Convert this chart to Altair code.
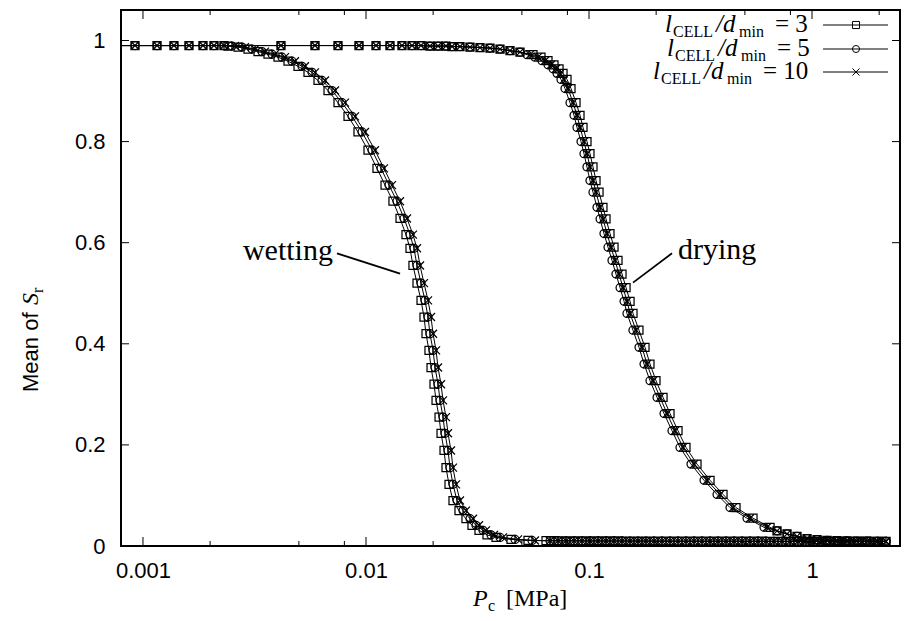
import altair as alt
import pandas as pd

# ---------------- data ----------------
RATIOS = ["3", "5", "10"]

# drying branch (increasing Pc), saturation shared by the three runs
SR_DRY = [0.990, 0.990, 0.990, 0.990, 0.990, 0.990, 0.990, 0.990, 0.990,
          0.990, 0.989, 0.989, 0.989, 0.988, 0.988, 0.987, 0.986, 0.985, 0.983,
          0.980, 0.977, 0.972, 0.967, 0.960, 0.952, 0.944, 0.935, 0.923, 0.905,
          0.877, 0.852, 0.828, 0.800, 0.776, 0.750, 0.723, 0.700, 0.670, 0.647,
          0.618, 0.591, 0.565, 0.538, 0.511, 0.484, 0.460, 0.427, 0.393, 0.360,
          0.327, 0.294, 0.262, 0.228, 0.195, 0.162, 0.130, 0.102, 0.076, 0.055,
          0.037, 0.030, 0.024, 0.019, 0.0148, 0.0125, 0.011, 0.0104, 0.0100, 0.0097,
          0.0095, 0.0093, 0.0092]

PC_DRY_COMMON_TOP = [0.00069, 0.004157, 0.005906, 0.007490, 0.009302, 0.01109, 0.01281,
                     0.01450, 0.01608, 0.01765, 0.01936, 0.02104, 0.02284, 0.02430,
                     0.02639, 0.02926, 0.03245, 0.03598, 0.03990, 0.04423, 0.04904]
PC_DRY_COMMON_TAIL = [0.6966, 0.7725, 0.8565, 0.9497, 1.0530, 1.168, 1.2945, 1.435,
                      1.5912, 1.764, 1.9566, 2.147]

PC_DRY_3_MID = [0.05609, 0.06091, 0.06548, 0.06968, 0.07338, 0.07647, 0.07968, 0.08304,
                0.08745, 0.09113, 0.09400, 0.09796, 0.1010, 0.1042, 0.1075, 0.1109,
                0.1155, 0.1192, 0.1242, 0.1295, 0.1349, 0.1406, 0.1466, 0.1528, 0.1575,
                0.1675, 0.1783, 0.1877, 0.1997, 0.2148, 0.2308, 0.2507, 0.2722, 0.3050,
                0.3489, 0.3990, 0.4562, 0.5438, 0.6483]
PC_DRY_5_MID = [0.05272, 0.05725, 0.06154, 0.06549, 0.06897, 0.07187, 0.07489, 0.07805,
                0.08219, 0.08566, 0.08835, 0.09207, 0.09496, 0.09792, 0.1010, 0.1042,
                0.1086, 0.1121, 0.1167, 0.1217, 0.1268, 0.1321, 0.1378, 0.1436, 0.1480,
                0.1574, 0.1676, 0.1765, 0.1877, 0.2019, 0.2170, 0.2356, 0.2558, 0.2867,
                0.3279, 0.3750, 0.4288, 0.5111, 0.6093]
PC_DRY_10_MID = [0.05438, 0.05905, 0.06348, 0.06755, 0.07114, 0.07413, 0.07725, 0.08050,
                 0.08478, 0.08835, 0.09113, 0.09497, 0.09795, 0.1010, 0.1042, 0.1075,
                 0.1120, 0.1156, 0.1204, 0.1255, 0.1308, 0.1363, 0.1421, 0.1481, 0.1527,
                 0.1624, 0.1729, 0.1820, 0.1936, 0.2082, 0.2238, 0.2430, 0.2639, 0.2957,
                 0.3382, 0.3868, 0.4423, 0.5272, 0.6285]

PC_DRY_3 = PC_DRY_COMMON_TOP + PC_DRY_3_MID + PC_DRY_COMMON_TAIL
PC_DRY_5 = PC_DRY_COMMON_TOP + PC_DRY_5_MID + PC_DRY_COMMON_TAIL
PC_DRY_10 = PC_DRY_COMMON_TOP + PC_DRY_10_MID + PC_DRY_COMMON_TAIL

# wetting branch (listed with increasing Pc, traversed from high to low Pc)
SR_WET = [0.990,
          0.990, 0.990, 0.990, 0.990, 0.990, 0.990, 0.990,
          0.989, 0.987, 0.983, 0.978, 0.973, 0.967, 0.959, 0.949, 0.937, 0.921,
          0.901, 0.877, 0.850, 0.819, 0.783,
          0.747, 0.714, 0.682, 0.648, 0.616, 0.589, 0.555, 0.520, 0.486, 0.453,
          0.420, 0.387, 0.353, 0.320, 0.288, 0.255, 0.223, 0.189, 0.155, 0.122,
          0.090, 0.070, 0.054, 0.041, 0.031, 0.022, 0.017, 0.013, 0.011,
          0.0105, 0.0104, 0.0103, 0.0102, 0.0101, 0.0100, 0.0100, 0.0099, 0.0099, 0.0099,
          0.0098, 0.0098, 0.0098, 0.0097, 0.0097, 0.0097, 0.0096, 0.0096, 0.0096, 0.0096,
          0.0095, 0.0095, 0.0095, 0.0095, 0.0094, 0.0094, 0.0094, 0.0094,
          0.0093, 0.0093, 0.0093, 0.0093, 0.0093,
          0.0092, 0.0092, 0.0092, 0.0092, 0.0092, 0.0092, 0.0092, 0.0092, 0.0092, 0.0092]

PC_WET_LOW = [0.00069, 0.000921, 0.001156, 0.001377, 0.001608, 0.001858, 0.002082, 0.002308]

PC_WET_FLAT_A = [0.06415, 0.06967, 0.07567, 0.08218, 0.08926, 0.09694, 0.1053, 0.1144,
                 0.1242, 0.1349, 0.1465, 0.1591, 0.1728, 0.1877, 0.2039, 0.2214, 0.2405,
                 0.2612, 0.2837, 0.3081, 0.3346, 0.3634, 0.3947, 0.4287, 0.4656, 0.5056,
                 0.5492, 0.5965, 0.6478, 0.7036, 0.7641, 0.8299, 0.9013, 0.9789, 1.0632,
                 1.1547, 1.2541, 1.3621, 1.4794, 1.6067, 1.7451, 1.8953, 2.0585]
PC_WET_FLAT_B = [0.06685, 0.07261, 0.07886, 0.08565, 0.09302, 0.1010, 0.1097, 0.1192,
                 0.1294, 0.1406, 0.1527, 0.1658, 0.1801, 0.1956, 0.2125, 0.2308, 0.2506,
                 0.2722, 0.2956, 0.3211, 0.3487, 0.3787, 0.4113, 0.4467, 0.4852, 0.5270,
                 0.5723, 0.6216, 0.6751, 0.7332, 0.7963, 0.8649, 0.9393, 1.0202, 1.1080,
                 1.2034, 1.3070, 1.4195, 1.5417, 1.6745, 1.8186, 1.9752, 2.1453]

PC_WET_3 = PC_WET_LOW + [
    0.002405, 0.002667, 0.002957, 0.003279, 0.003635, 0.004031, 0.004470, 0.004956,
    0.005495, 0.006093, 0.006756, 0.007490, 0.008306, 0.009207, 0.01021,
    0.01120, 0.01217, 0.01321, 0.01421, 0.01511, 0.01575, 0.01624, 0.01693, 0.01765, 0.01820,
    0.01858, 0.01916, 0.01957, 0.02018, 0.02061, 0.02126, 0.02170, 0.02238, 0.02284, 0.02356,
    0.02455, 0.02612, 0.02807, 0.02987, 0.03211, 0.03488, 0.03828, 0.04469, 0.05326,
] + PC_WET_FLAT_A
PC_WET_5 = PC_WET_LOW + [
    0.002506, 0.002779, 0.003082, 0.003417, 0.003789, 0.004201, 0.004658, 0.005164,
    0.005726, 0.006349, 0.007040, 0.007805, 0.008654, 0.009596, 0.01064,
    0.01168, 0.01268, 0.01377, 0.01481, 0.01575, 0.01641, 0.01693, 0.01765, 0.01839, 0.01897,
    0.01936, 0.01998, 0.02040, 0.02104, 0.02148, 0.02215, 0.02261, 0.02332, 0.02380, 0.02455,
    0.02559, 0.02723, 0.02926, 0.03113, 0.03346, 0.03635, 0.03990, 0.04659, 0.05551,
] + PC_WET_FLAT_B
PC_WET_10 = PC_WET_LOW + [
    0.002585, 0.002866, 0.003178, 0.003524, 0.003907, 0.004333, 0.004804, 0.005327,
    0.005906, 0.006548, 0.007261, 0.008050, 0.008927, 0.009897, 0.01097,
    0.01204, 0.01308, 0.01421, 0.01527, 0.01624, 0.01693, 0.01747, 0.01820, 0.01897, 0.01957,
    0.01998, 0.02061, 0.02104, 0.02170, 0.02215, 0.02284, 0.02332, 0.02405, 0.02455, 0.02533,
    0.02639, 0.02807, 0.03019, 0.03211, 0.03452, 0.03750, 0.04114, 0.04803, 0.05725,
] + PC_WET_FLAT_B

X_MAJOR = [0.001, 0.01, 0.1, 1]
X_MINOR = [0.002, 0.005, 0.008, 0.02, 0.05, 0.08, 0.2, 0.5, 0.8, 2]
Y_MAJOR = [0, 0.2, 0.4, 0.6, 0.8, 1.0]

# annotations (data coordinates)
ANNOT_TEXT = ["wetting", "drying"]
ANNOT_PC = [0.00711, 0.2507]
ANNOT_SR = [0.565, 0.567]
POINTER_PC = [0.00741, 0.1575]
POINTER_PC2 = [0.01421, 0.2356]
POINTER_SR = [0.579, 0.521]
POINTER_SR2 = [0.539, 0.579]

# ---------------- build table ----------------
rows = []
for s, pd_, pw_ in zip(RATIOS, [PC_DRY_3, PC_DRY_5, PC_DRY_10], [PC_WET_3, PC_WET_5, PC_WET_10]):
    assert len(pd_) == len(SR_DRY) and len(pw_) == len(SR_WET)
    i = 0
    for p, r in zip(pd_, SR_DRY):
        rows.append({"series": s, "Pc": p, "Sr": r, "idx": i}); i += 1
    for p, r in zip(reversed(pw_), reversed(SR_WET)):
        rows.append({"series": s, "Pc": p, "Sr": r, "idx": i}); i += 1
df = pd.DataFrame(rows)

W, H = 779, 536
xscale = alt.Scale(type="log", domain=[0.000797, 2.48], nice=False)
yscale = alt.Scale(domain=[0, H / 505.5], nice=False, zero=True)
CROSS = "M-1,-1L1,1M-1,1L1,-1"
SHAPES = ["square", "circle", CROSS]
SANS = "Liberation Sans"
SERIF = "Liberation Serif"

AX_X = alt.Axis(values=X_MAJOR, format="~g", ticks=False, domain=False, grid=False,
                labelFont=SANS, labelFontSize=22, labelColor="black",
                labelPadding=14, title=None)
AX_Y = alt.Axis(values=Y_MAJOR, format="~g", ticks=False, domain=False, grid=False,
                labelFont=SANS, labelFontSize=22, labelColor="black",
                labelPadding=16, title=None)


def XF(field):
    return alt.X(field, scale=xscale, axis=AX_X)


def YF(field):
    return alt.Y(field, scale=yscale, axis=AX_Y)


line = alt.Chart(df).mark_line(color="black", strokeWidth=1, clip=True).encode(
    x=XF("Pc:Q"), y=YF("Sr:Q"), detail="series:N", order="idx:Q")
points = alt.Chart(df).mark_point(filled=False, color="black", strokeWidth=1.25, size=64,
                                  opacity=1, clip=True).encode(
    x=XF("Pc:Q"), y=YF("Sr:Q"),
    shape=alt.Shape("series:N", scale=alt.Scale(domain=RATIOS, range=SHAPES), legend=None))


def xticks(vals, y0, y1):
    return alt.Chart(pd.DataFrame({"Pc": vals})).mark_rule(color="black", strokeWidth=1).encode(
        x=XF("Pc:Q"), y=alt.value(y0), y2=alt.value(y1))


def yticks(vals, x0, x1):
    return alt.Chart(pd.DataFrame({"Sr": vals})).mark_rule(color="black", strokeWidth=1).encode(
        y=YF("Sr:Q"), x=alt.value(x0), x2=alt.value(x1))


ticks = [xticks(X_MAJOR, H, H - 9), xticks(X_MINOR, H, H - 5),
         xticks(X_MAJOR, 0, 9), xticks(X_MINOR, 0, 5),
         yticks(Y_MAJOR, 0, 8), yticks(Y_MAJOR, W - 8, W)]

ann = pd.DataFrame({"t": ANNOT_TEXT, "Pc": ANNOT_PC, "Sr": ANNOT_SR})
ann_w = alt.Chart(ann.iloc[[0]]).mark_text(font=SERIF, fontSize=30, align="right",
                                           baseline="alphabetic", color="black").encode(
    x=XF("Pc:Q"), y=YF("Sr:Q"), text="t:N")
ann_d = alt.Chart(ann.iloc[[1]]).mark_text(font=SERIF, fontSize=30, align="left",
                                           baseline="alphabetic", color="black").encode(
    x=XF("Pc:Q"), y=YF("Sr:Q"), text="t:N")
ptr = pd.DataFrame({"Pc": POINTER_PC, "Pc2": POINTER_PC2, "Sr": POINTER_SR, "Sr2": POINTER_SR2})
pointers = alt.Chart(ptr).mark_rule(color="black", strokeWidth=1.8).encode(
    x=XF("Pc:Q"), x2="Pc2:Q", y=YF("Sr:Q"), y2="Sr2:Q")

ONE = pd.DataFrame({"a": [0]})


def txt(s, x, y, size, style="normal", font=SERIF, angle=None, align="left"):
    kw = dict(text=s, font=font, fontSize=size, fontStyle=style, align=align,
              baseline="alphabetic", color="black")
    if angle is not None:
        kw["angle"] = angle
    return alt.Chart(ONE).mark_text(**kw).encode(x=alt.value(x), y=alt.value(y))


texts = []
# x axis title: P_c [MPa]
texts += [txt("P", 352, 596, 24, "italic"), txt("c", 367, 601, 16), txt("[MPa]", 385, 596, 24)]
# y axis title: Mean of S_r
texts += [txt("Mean of", -83, 382, 22, font=SANS, angle=270),
          txt("S", -83, 295, 24, "italic", angle=270),
          txt("r", -78, 283, 16, angle=270)]

# legend (line sample with marker)
LEG_LINE_Y = [15, 39, 62]
LEG_BASE_Y = [22, 45.5, 69]
LEG_START = [544, 546, 532]
legend = []
for k, s in enumerate(RATIOS):
    ly, by, x0 = LEG_LINE_Y[k], LEG_BASE_Y[k], LEG_START[k]
    legend.append(alt.Chart(ONE).mark_rule(color="black", strokeWidth=1).encode(
        x=alt.value(702), x2=alt.value(767), y=alt.value(ly)))
    legend.append(alt.Chart(ONE).mark_point(filled=False, color="black", strokeWidth=1,
                                            size=50, opacity=1, shape=SHAPES[k]).encode(
        x=alt.value(735), y=alt.value(ly)))
    legend += [txt("l", x0, by, 25, "italic"), txt("CELL", x0 + 8, by + 5, 16),
               txt("/d", x0 + 51, by, 25, "italic"), txt("min", x0 + 74, by + 5, 16),
               txt("= " + s, x0 + 110, by, 25)]

chart = alt.layer(line, points, *ticks, pointers, ann_w, ann_d, *texts, *legend).properties(
    width=W, height=H,
    autosize=alt.AutoSizeParams(type="none"),
    padding={"left": 113, "top": 2, "right": 1, "bottom": 67},
    background="white",
).configure_view(stroke="black", strokeWidth=2)

chart.save("out.html", embed_options={"renderer": "svg", "actions": False})
